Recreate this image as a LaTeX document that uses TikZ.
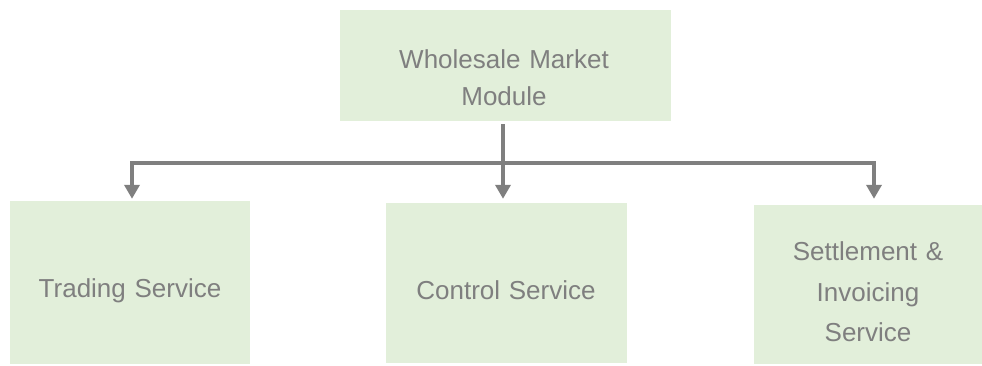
\documentclass[tikz,border=0pt]{standalone}
\usepackage{fontspec}
\setmainfont{Liberation Sans}
\usetikzlibrary{arrows.meta}
\definecolor{boxfill}{HTML}{E2EFDA}
\definecolor{inkgray}{HTML}{7F7F7F}
\tikzset{
  box/.style={draw=none, fill=boxfill, inner sep=0pt, minimum width=#1},
  label/.style={text=inkgray, anchor=base, align=center, text width=300pt, inner sep=0pt},
  conn/.style={draw=inkgray, line width=4pt, miter limit=10,
    -{Triangle[width=15pt,length=14pt]}},
}
\begin{document}
\begin{tikzpicture}[x=1pt,y=-1pt]
  \useasboundingbox (0,0) rectangle (982,365);

  % boxes
  \node[box=331pt, minimum height=111pt] (top)   at (505.5,65.5) {};
  \node[box=240pt, minimum height=163pt] (left)  at (130,282.5) {};
  \node[box=241pt, minimum height=160pt] (mid)   at (506.5,283) {};
  \node[box=228pt, minimum height=159pt] (right) at (868,284.5) {};

  % labels
  \node[label, font=\fontsize{26}{37}\selectfont] (toptxt) at (504,68.3)
    {Wholesale Market\\Module};
  \node[label, font=\fontsize{26}{40}\selectfont] (lefttxt) at (130,297.8)
    {Trading Service};
  \node[label, font=\fontsize{26}{40}\selectfont] (midtxt) at (506,299)
    {Control Service};
  \node[label, font=\fontsize{26}{40.5}\selectfont] (righttxt) at (868,260.7)
    {Settlement \&\\Invoicing\\Service};

  % distribution bus
  \coordinate (bus) at (503,163);
  \coordinate (busL) at (132,163);
  \coordinate (busR) at (874,163);

  \draw[conn, shorten <=3pt, shorten >=4pt] (top.south -| bus) -- (mid.north -| bus);
  \draw[conn, shorten >=2pt] (bus) -- (busL) -- (left.north -| busL);
  \draw[conn, shorten >=6pt] (bus) -- (busR) -- (right.north -| busR);
\end{tikzpicture}
\end{document}
